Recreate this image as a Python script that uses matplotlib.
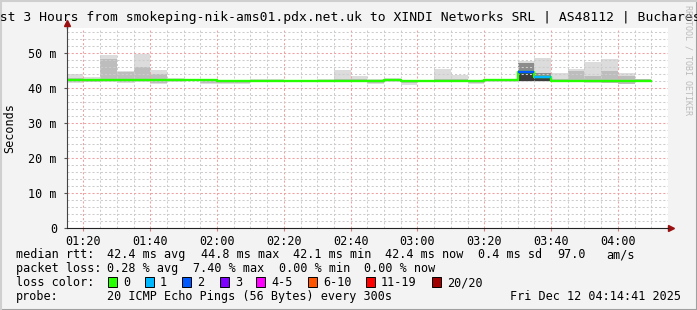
import numpy as np
import matplotlib.pyplot as plt
from matplotlib.patches import Rectangle

W, H = 697, 310

# 5-minute bins starting 01:15 (minutes after midnight)
bin_start = 75
bin_width = 5
# smoke: outer range (min..max) and inner range of the 20 pings, ms
smoke_hi = [44.0, 43.3, 49.5, 45.0, 49.8, 45.2, 42.9, 42.7, 42.6, 42.5, 42.4, 42.7,
            42.6, 42.5, 42.5, 42.6, 45.2, 43.5, 42.6, 42.9, 42.3, 42.5, 45.5, 43.9,
            42.4, 42.7, 42.6, 47.9, 48.7, 44.3, 45.5, 47.6, 48.4, 44.3, 42.8]
smoke_ihi = [43.0, 42.8, 48.4, 44.6, 46.2, 44.0, 42.6, 42.6, 42.5, 42.3, 42.3, 42.5,
             42.4, 42.4, 42.4, 42.4, 42.6, 42.6, 42.4, 42.7, 42.2, 42.4, 42.6, 42.6,
             42.3, 42.6, 42.5, 47.2, 44.5, 42.6, 44.9, 43.5, 44.9, 43.4, 42.6]
smoke_ilo = [41.8, 41.9, 42.0, 41.8, 42.0, 41.5, 42.0, 42.2, 41.6, 41.6, 41.6, 41.9,
             41.9, 41.9, 41.9, 41.9, 41.8, 41.9, 41.6, 42.0, 41.4, 41.9, 41.9, 41.9,
             41.6, 42.0, 42.0, 42.0, 42.0, 41.9, 41.9, 41.8, 41.6, 41.3, 42.0]
smoke_lo = [41.4, 41.8, 41.9, 41.5, 41.8, 41.1, 41.8, 42.0, 41.2, 41.2, 41.2, 41.8,
            41.8, 41.8, 41.8, 41.8, 41.7, 41.8, 41.2, 41.9, 40.9, 41.8, 41.8, 41.8,
            41.2, 41.9, 41.9, 41.8, 41.8, 41.8, 41.8, 41.6, 41.5, 41.2, 41.8]
# darker smoke for the bins with loss
dark_bins = [27, 28]
mid_lo = [44.9, 43.0]
mid_hi = [47.2, 44.5]
core_lo = [42.2, 42.0]
core_hi = [44.9, 43.0]
median = [42.4, 42.4, 42.4, 42.4, 42.4, 42.4, 42.4, 42.4, 42.5, 42.1, 42.1, 42.1,
          42.1, 42.1, 42.1, 42.1, 42.2, 42.2, 42.2, 42.3, 42.1, 42.2, 42.2, 42.2,
          42.1, 42.3, 42.3, 44.6, 43.1, 42.2, 42.2, 42.2, 42.2, 42.2, 42.2]
loss = [0] * 35
loss[27] = 2
loss[28] = 1

tick_minutes = [80, 100, 120, 140, 160, 180, 200, 220, 240]
tick_labels = ['01:20', '01:40', '02:00', '02:20', '02:40', '03:00', '03:20', '03:40', '04:00']
y_ticks = [0, 10, 20, 30, 40, 50]
y_labels = ['0', '10 m', '20 m', '30 m', '40 m', '50 m']

loss_names = ['0', '1', '2', '3', '4-5', '6-10', '11-19', '20/20']
loss_colors = ['#26ff00', '#00b8ff', '#0059ff', '#7e00ff', '#ff00ff', '#ff5500', '#ff0000', '#a10000']

mono = 'DejaVu Sans Mono'
fs = 8.5

fig = plt.figure(figsize=(W / 100, H / 100), dpi=100, facecolor='#f3f3f3')
L, R, T, B = 66.7, 668, 28, 228.3
ax = fig.add_axes([L / W, 1 - B / H, (R - L) / W, (B - T) / H])
ax.set_facecolor('white')

x = bin_start + bin_width * np.arange(len(median))
hi = np.array(smoke_hi); lo = np.array(smoke_lo)
ihi = np.array(smoke_ihi); ilo = np.array(smoke_ilo)
ax.bar(x, hi - lo, bottom=lo, width=bin_width, align='edge', color='#dcdcdc', lw=0, zorder=1)
ax.bar(x, ihi - ilo, bottom=ilo, width=bin_width, align='edge', color='#bdbdbd', lw=0, zorder=1.1)
dx = bin_start + bin_width * np.array(dark_bins)
ax.bar(dx, np.array(mid_hi) - np.array(mid_lo), bottom=mid_lo, width=bin_width,
       align='edge', color='#8c8c8c', lw=0, zorder=1.2)
ax.bar(dx, np.array(core_hi) - np.array(core_lo), bottom=core_lo, width=bin_width,
       align='edge', color='#3c3c3c', lw=0, zorder=1.3)

# median line, coloured by loss
xs = np.append(x, x[-1] + bin_width)
ax.step(xs, median + [median[-1]], where='post', color=loss_colors[0], lw=1.7, zorder=3)
for i, l in enumerate(loss):
    if l > 0:
        ax.hlines(median[i], x[i], x[i] + bin_width, color=loss_colors[l], lw=1.7, zorder=3.1)

ax.set_xlim(75, 255)
ax.set_ylim(0, (B - T) / 3.5)

# grid
dot = (0, (2, 2))
for m in range(80, 255, 5):
    major = m % 20 == 0
    ax.axvline(m, color='#f0a0a0' if major else '#cccccc', lw=0.75, ls=dot, zorder=2)
for v in range(2, 58, 2):
    major = v % 10 == 0
    ax.axhline(v, color='#f0a0a0' if major else '#cccccc', lw=0.75, ls=dot, zorder=2)

ax.set_xticks(tick_minutes)
ax.set_xticklabels(tick_labels, family=mono, fontsize=fs)
ax.set_yticks(y_ticks)
ax.set_yticklabels(y_labels, family=mono, fontsize=fs)
ax.tick_params(axis='x', length=2, pad=3, color='#d08080')
ax.tick_params(axis='y', length=2, pad=5, color='#555555')
for s in ['top', 'right']:
    ax.spines[s].set_visible(False)
ax.spines['left'].set_color('#444444')
ax.spines['bottom'].set_color('#222222')
ax.spines['left'].set_zorder(4)
ax.spines['bottom'].set_zorder(4)
ax.plot([1.0, 1.004], [0, 0], transform=ax.transAxes, color='#222222', lw=1, clip_on=False)
ax.plot([1.005], [0], marker='>', ms=5, color='#9a1010', transform=ax.transAxes, clip_on=False)
ax.plot([0, 0], [1.0, 1.02], transform=ax.transAxes, color='#444444', lw=1, clip_on=False)
ax.plot([0], [1.025], marker='^', ms=5, color='#9a1010', transform=ax.transAxes, clip_on=False)
ax.set_ylabel('Seconds', family=mono, fontsize=fs)
ax.yaxis.label.set_va('center')
ax.yaxis.set_label_coords(-(L - 10) / (R - L), 0.5)

def ftext(px, py, s, **kw):
    kw.setdefault('family', mono)
    kw.setdefault('fontsize', fs)
    fig.text(px / W, 1 - py / H, s, va='center', **kw)

ftext(-15.5, 18, 'Last 3 Hours from smokeping-nik-ams01.pdx.net.uk to XINDI Networks SRL | AS48112 | Bucharest',
      fontsize=9.4)
fig.text(688 / W, 1 - 60 / H, 'RRDTOOL / TOBI OETIKER', rotation=270, family=mono, fontsize=6,
         color='#bbbbbb', ha='center', va='center')

row1 = [(16, 'median rtt:'), (107, '42.4 ms avg'), (201, '44.8 ms max'), (293, '42.1 ms min'),
        (385, '42.4 ms now'), (478, '0.4 ms sd'), (557, '97.0'), (606, 'am/s')]
row2 = [(16, 'packet loss:'), (107, '0.28 % avg'), (193, '7.40 % max'), (279, '0.00 % min'),
        (364, '0.00 % now')]
for px, s in row1:
    ftext(px, 254.5, s)
for px, s in row2:
    ftext(px, 268.5, s)
ftext(16, 282.5, 'loss color:')
box_x = [108, 145, 182, 220, 256, 308, 366, 432]
for bx, name, c in zip(box_x, loss_names, loss_colors):
    fig.patches.append(Rectangle((bx / W, 1 - 287 / H), 9 / W, 10 / H, transform=fig.transFigure,
                                 facecolor=c, edgecolor='black', lw=0.7))
    ftext(bx + 15, 282.5, name)
ftext(16, 296.5, 'probe:')
ftext(107, 296.5, '20 ICMP Echo Pings (56 Bytes) every 300s')
ftext(681, 296.5, 'Fri Dec 12 04:14:41 2025', ha='right')

# image border
fig.add_artist(plt.Line2D([0, 1], [0.5 / H, 0.5 / H], transform=fig.transFigure, color='#a0a0a0', lw=1.5))
fig.add_artist(plt.Line2D([1 - 0.5 / W, 1 - 0.5 / W], [0, 1], transform=fig.transFigure, color='#a0a0a0', lw=1.5))
fig.add_artist(plt.Line2D([0, 1], [1 - 0.5 / H, 1 - 0.5 / H], transform=fig.transFigure, color='#cfcfcf', lw=1.5))
fig.add_artist(plt.Line2D([0.5 / W, 0.5 / W], [0, 1], transform=fig.transFigure, color='#cfcfcf', lw=1.5))

fig.savefig('out.png', dpi=100, facecolor=fig.get_facecolor())
